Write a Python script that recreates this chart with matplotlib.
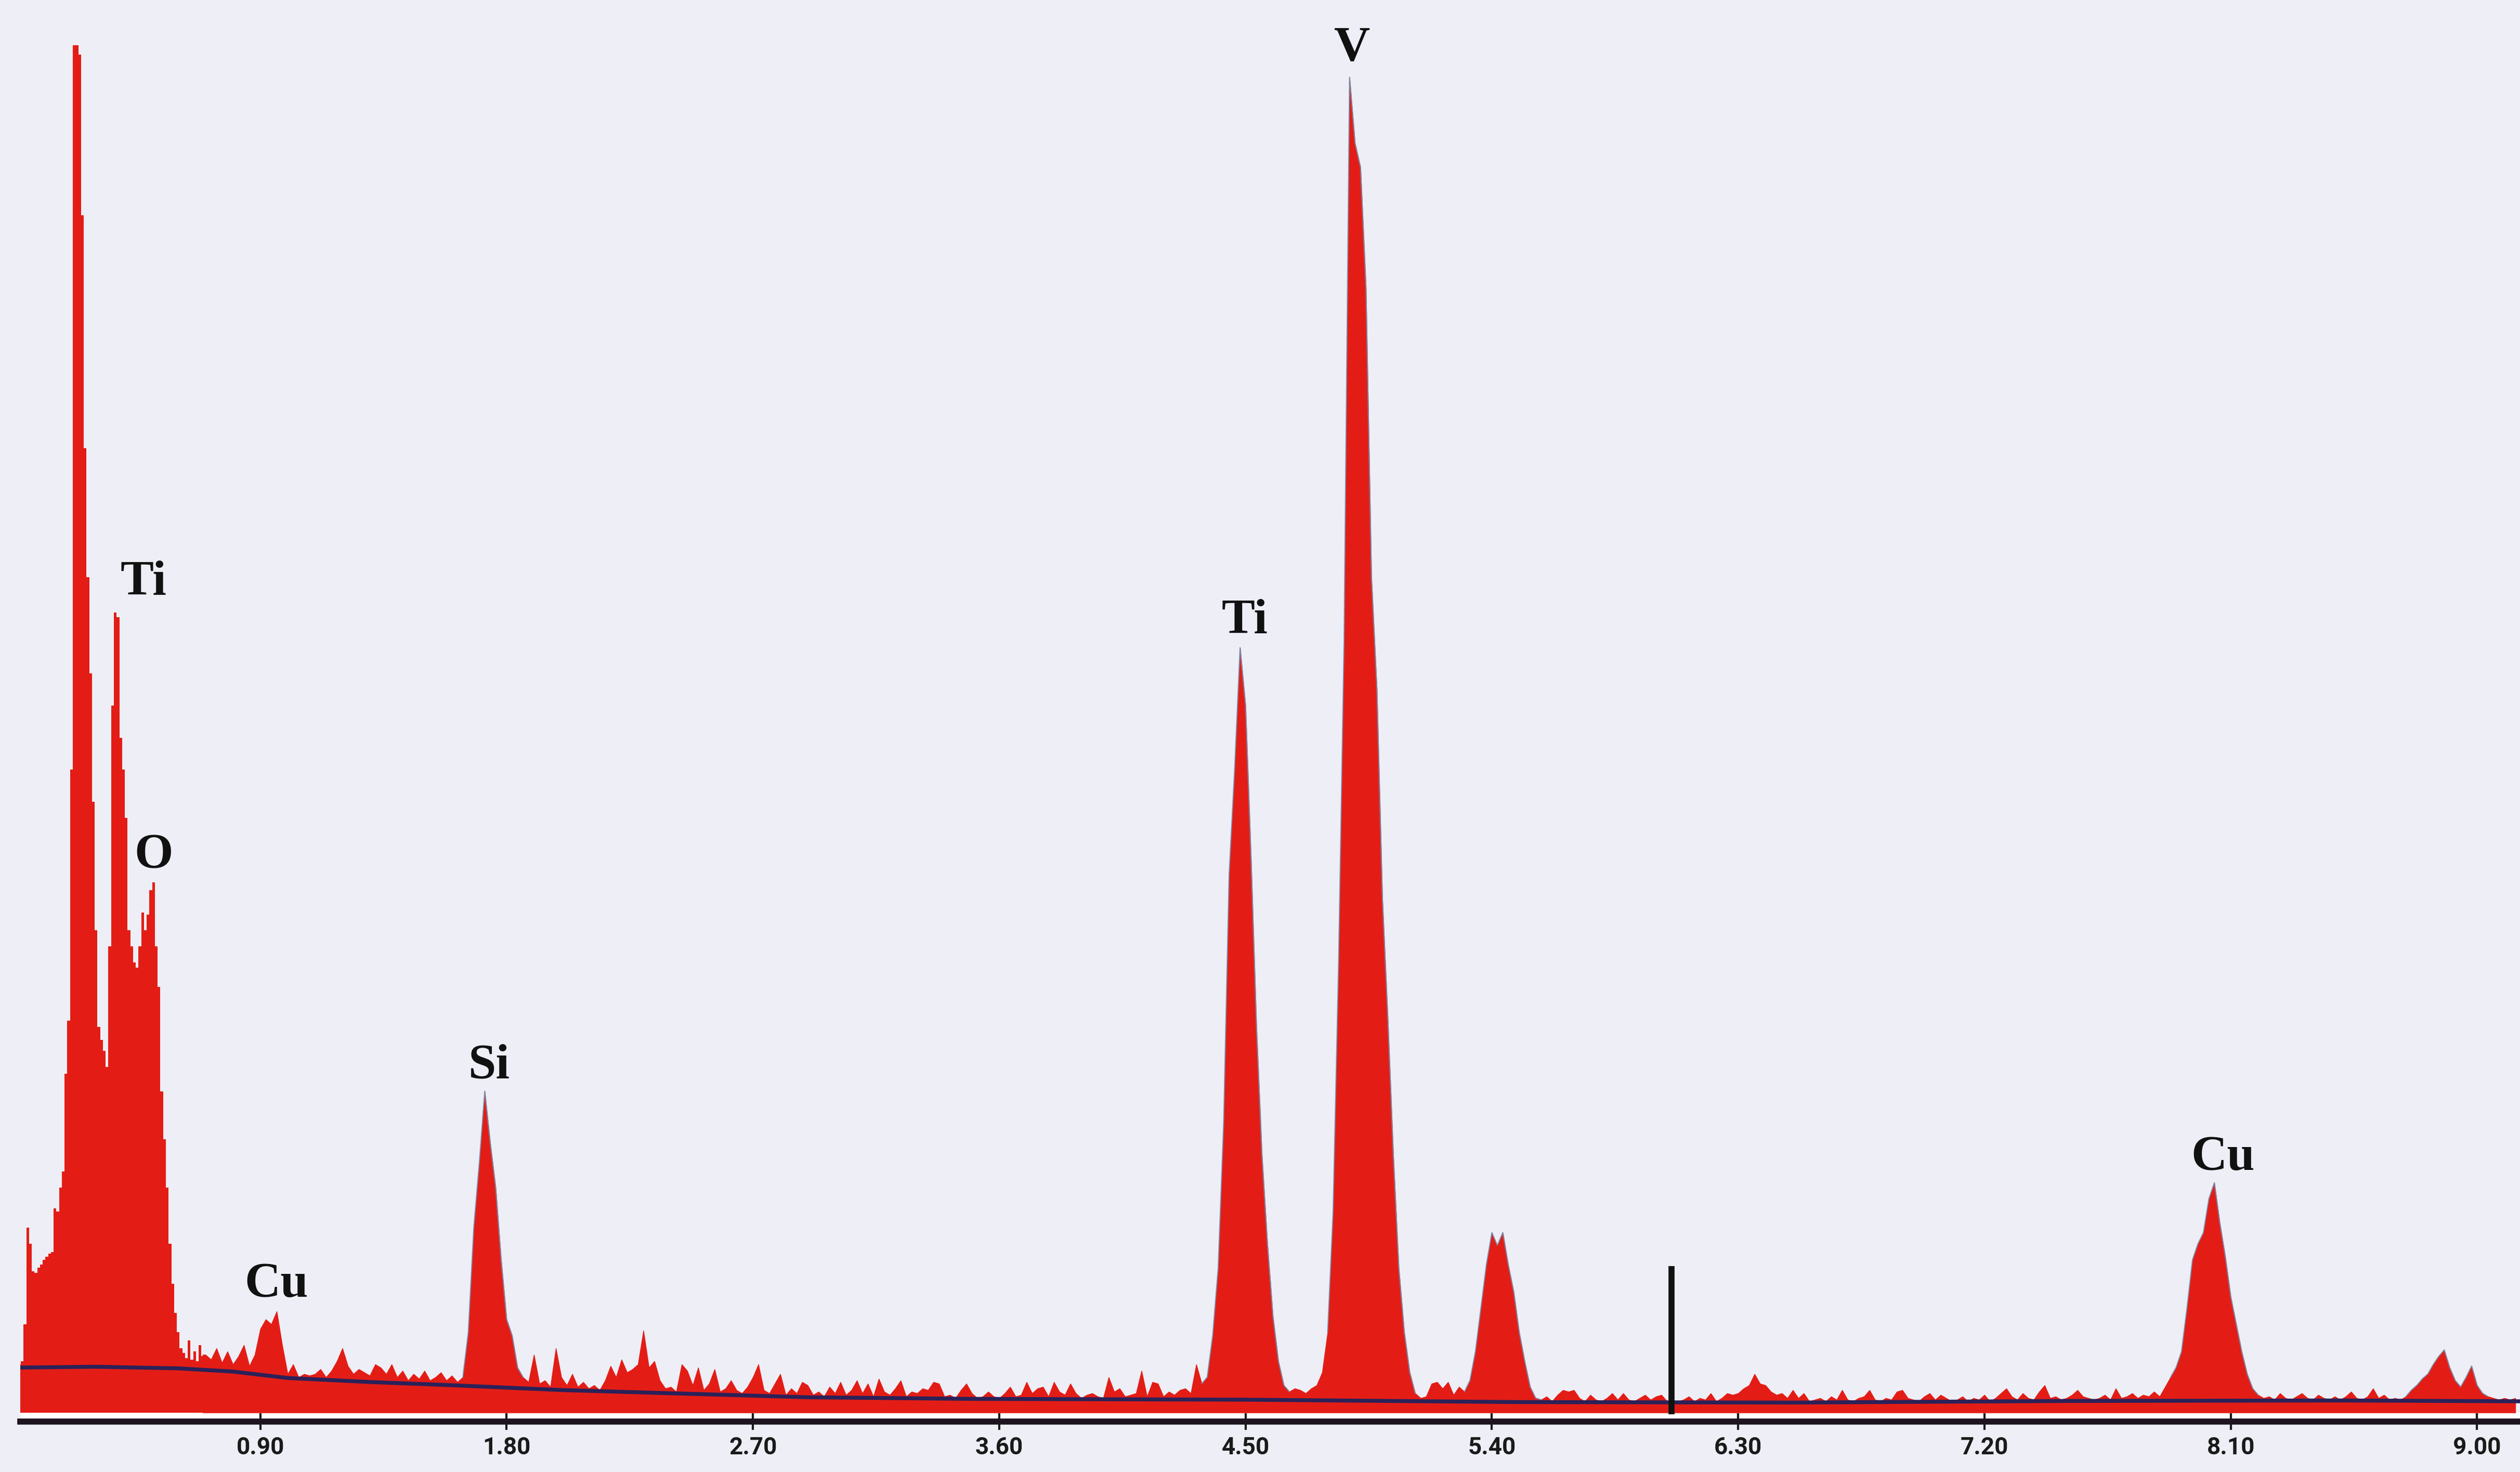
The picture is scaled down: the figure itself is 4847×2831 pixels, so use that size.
import numpy as np
import matplotlib.pyplot as plt

# EDS spectrum, counts per channel (arbitrary units)
# 10 eV channels up to 0.69 keV, 20 eV channels from 0.70 keV on
low_start, low_step = 0.02, 0.01
low_counts = [
    30, 32, 55, 115, 105, 88, 87, 90, 92, 95,
    97, 99, 100, 127, 125, 140, 150, 211, 244, 400,
    851, 851, 845, 745, 600, 520, 460, 380, 300, 240,
    232, 225, 215, 290, 440, 498, 495, 420, 400, 370,
    300, 290, 280, 277, 290, 311, 300, 310, 325, 330,
    290, 265, 200, 170, 140, 105, 80, 62, 50, 40,
    37, 34, 45, 33, 38, 32, 42, 35,
]

high_start, high_step = 0.70, 0.02
high_counts = [
    36, 33, 40, 31, 38, 30, 35, 42, 29, 36,        # 0.70
    52, 58, 55, 63, 42, 24, 30, 22, 24, 23,        # 0.90 Cu L
    24, 27, 22, 26, 32, 40, 29, 24, 27, 25,        # 1.10
    23, 30, 28, 24, 30, 22, 26, 20, 24, 21,        # 1.30
    26, 20, 22, 25, 20, 23, 19, 22, 50, 115,       # 1.50
    155, 200, 168, 140, 95, 58, 48, 28, 22, 19,    # 1.70 Si
    36, 18, 20, 16, 40, 22, 17, 24, 16, 19,        # 1.90
    15, 17, 14, 20, 29, 22, 33, 25, 27, 30,        # 2.10
    51, 28, 32, 20, 15, 16, 13, 30, 26, 17,        # 2.30
    28, 14, 18, 27, 13, 15, 20, 14, 12, 16,        # 2.50
    22, 30, 14, 12, 18, 24, 11, 15, 12, 19,        # 2.70
    17, 11, 13, 10, 16, 12, 19, 11, 14, 20,        # 2.90
    12, 18, 10, 21, 13, 11, 15, 20, 10, 13,        # 3.10
    12, 15, 14, 19, 18, 10, 11, 9, 14, 18,         # 3.30
    12, 9, 10, 13, 10, 9, 12, 16, 10, 11,          # 3.50
    19, 12, 15, 16, 10, 19, 13, 11, 18, 12,        # 3.70
    9, 11, 12, 10, 9, 22, 13, 15, 10, 11,          # 3.90
    12, 26, 10, 19, 18, 10, 13, 11, 14, 15,        # 4.10
    12, 30, 18, 22, 48, 90, 180, 335, 400, 476,    # 4.30 Ti K
    440, 345, 240, 160, 105, 60, 32, 17, 13, 15,   # 4.50
    14, 12, 15, 17, 25, 50, 125, 280, 480, 831,    # 4.70 V K
    790, 775, 700, 520, 450, 320, 245, 160, 90, 50,  # 4.90
    25, 12, 9, 10, 18, 19, 15, 19, 11, 16,         # 5.10
    13, 20, 38, 65, 92, 112, 104, 112, 92, 75,     # 5.30 V Kb
    50, 32, 16, 9, 8, 10, 7, 11, 14, 13,           # 5.50
    14, 9, 7, 11, 8, 7, 9, 12, 8, 12,              # 5.70
    8, 7, 9, 11, 8, 10, 11, 7, 6, 7,               # 5.90
    8, 10, 7, 9, 8, 12, 7, 9, 12, 11,              # 6.10
    12, 15, 17, 24, 18, 17, 13, 11, 12, 9,         # 6.30
    14, 9, 12, 7, 8, 9, 7, 10, 8, 14,              # 6.50
    8, 7, 9, 10, 14, 8, 7, 9, 8, 13,               # 6.70
    14, 9, 8, 7, 10, 12, 8, 11, 9, 7,              # 6.90
    8, 10, 7, 9, 8, 11, 7, 9, 12, 15,              # 7.10
    10, 8, 12, 9, 8, 13, 17, 9, 10, 8,             # 7.30
    9, 11, 14, 10, 9, 8, 9, 11, 8, 15,             # 7.50
    9, 10, 12, 9, 11, 10, 13, 10, 16, 22,          # 7.70
    28, 38, 65, 95, 105, 112, 133, 143, 118, 97,   # 7.90 Cu K
    72, 55, 38, 24, 15, 11, 9, 10, 8, 12,          # 8.10
    9, 8, 10, 12, 9, 8, 11, 9, 8, 10,              # 8.30
    8, 10, 13, 9, 8, 10, 15, 9, 11, 8,             # 8.50
    9, 8, 10, 14, 17, 21, 24, 30, 35, 39,          # 8.70 Cu Kb
    28, 20, 16, 22, 29, 17, 12, 10, 9, 8,          # 8.90
    9, 8, 9,                                       # 9.10
]

# background (bremsstrahlung) line
bg_kev = [0.02, 0.3, 0.6, 0.8, 1.0, 1.3, 1.6, 2.0, 2.4, 2.9, 3.5, 4.5, 5.5, 6.5, 7.5, 8.5, 9.16]
bg_counts = [28, 28.5, 27.5, 25.5, 21.5, 19, 17, 14, 12, 9.5, 8.5, 8, 6.5, 6.2, 7.2, 7.5, 7]

# energy windows where the fitted peak outline shows
fit_windows = [(1.64, 1.86), (4.34, 4.66), (4.80, 5.12), (5.30, 5.58), (7.88, 8.20), (8.74, 9.04)]

tick_kev = [0.90, 1.80, 2.70, 3.60, 4.50, 5.40, 6.30, 7.20, 8.10, 9.00]

peak_names = ["Ti", "O", "Cu", "Si", "Ti", "V", "Cu"]
peak_kev = [0.474, 0.510, 0.959, 1.737, 4.496, 4.890, 8.072]
label_counts = [509, 339, 72, 208, 485, 841, 151]

marker_kev = 6.056
marker_top = 91

low_e = low_start + low_step * np.arange(len(low_counts))
high_e = high_start + high_step * np.arange(len(high_counts))
low_c = np.array(low_counts, dtype=float)
high_c = np.array(high_counts, dtype=float)

bg_col = "#edeef6"
red = "#e31d16"

fig = plt.figure(figsize=(4847 / 300, 2831 / 300), dpi=300, facecolor=bg_col)
ax = fig.add_axes([12.6 / 1568, 31.5 / 916, 1 - 12.6 / 1568, 884.5 / 916])
ax.set_facecolor(bg_col)
ax.set_xlim(0.023, 9.157)
ax.set_ylim(-5.5, 879)

ax.axhspan(-5.5, 0, color="white", lw=0, zorder=0)
# fine channels drawn as a histogram, the rest as a polyline
ax.fill_between(low_e, low_c, step="mid", color=red, lw=0, zorder=2)
ax.fill_between(np.r_[low_e[-1], high_e], np.r_[high_c[0], high_c],
                color=red, lw=0.3, edgecolor=red, zorder=2)

for lo, hi in fit_windows:
    m = (high_e >= lo) & (high_e <= hi)
    ax.plot(high_e[m], high_c[m], color="#6d94b8", lw=0.5, alpha=0.8, zorder=3)

ax.plot(bg_kev, bg_counts, color="#2b2158", lw=1.8, zorder=4)
ax.vlines(marker_kev, -1, marker_top, color="#111111", lw=2.8, zorder=5)

for name, x, y in zip(peak_names, peak_kev, label_counts):
    ax.text(x, y, name, ha="center", va="baseline", fontsize=23,
            family="Liberation Serif", weight="bold", color="#111111", zorder=6)

for s in ["top", "left", "right"]:
    ax.spines[s].set_visible(False)
ax.spines["bottom"].set_linewidth(2.8)
ax.spines["bottom"].set_color("#1e1420")

ax.set_yticks([])
ax.set_xticks(tick_kev, [f"{t:.2f}" for t in tick_kev])
ax.tick_params(axis="x", direction="inout", length=7.5, width=1, pad=3,
               labelsize=11, colors="#1a1a1a")
for lab in ax.get_xticklabels():
    lab.set_fontfamily("Roboto")
    lab.set_fontweight("bold")

fig.savefig("out.png", dpi=300, facecolor=fig.get_facecolor())
